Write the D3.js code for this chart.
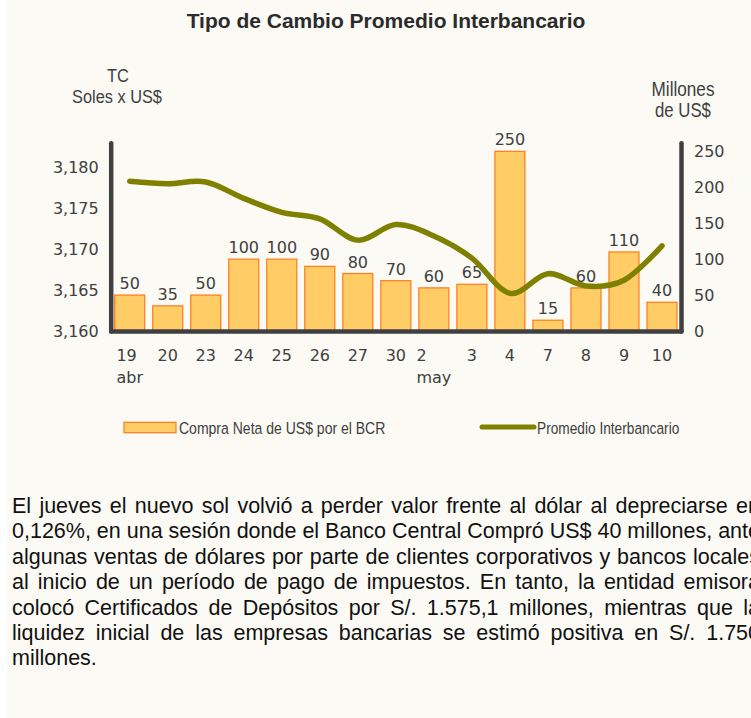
<!DOCTYPE html>
<html lang="es">
<head>
<meta charset="UTF-8">
<title>Tipo de Cambio Promedio Interbancario</title>
<script src="https://d3js.org/d3.v7.min.js"></script>
<style>
  body { margin: 0; background: #fff; }
  svg { display: block; }
  .tick text { font-family: "DejaVu Sans", Verdana, sans-serif; font-size: 16px; fill: #404040; }
  .narrow { font-family: "Liberation Sans", Arial, sans-serif; fill: #404040; }
</style>
</head>
<body>
<svg width="751" height="718"></svg>
<script>
// datos
const fechas = ["19", "20", "23", "24", "25", "26", "27", "30", "2", "3", "4", "7", "8", "9", "10"];
const meses = { "19": "abr", "2": "may" };
const compraNeta = [50, 35, 50, 100, 100, 90, 80, 70, 60, 65, 250, 15, 60, 110, 40];
const promedioTC = [3.1783, 3.1780, 3.1782, 3.1762, 3.1745, 3.1737, 3.1711, 3.1730, 3.1716, 3.1689, 3.1646, 3.1670, 3.1655, 3.1662, 3.1704];
const ticksTC = [3.160, 3.165, 3.170, 3.175, 3.180];
const ticksUS = [0, 50, 100, 150, 200, 250];
const series = ["Compra Neta de US$ por el BCR", "Promedio Interbancario"];
const parrafo = [
  "El jueves el nuevo sol volvió a perder valor frente al dólar al depreciarse en",
  "0,126%, en una sesión donde el Banco Central Compró US$ 40 millones, ante",
  "algunas ventas de dólares por parte de clientes corporativos y bancos locales",
  "al inicio de un período de pago de impuestos. En tanto, la entidad emisora",
  "colocó Certificados de Depósitos por S/. 1.575,1 millones, mientras que la",
  "liquidez inicial de las empresas bancarias se estimó positiva en S/. 1.750",
  "millones."
];

const W = 751, H = 718;
const svg = d3.select("svg");

svg.append("rect")
  .attr("x", 7).attr("y", 0)
  .attr("width", W - 7).attr("height", H)
  .attr("fill", "#fbfaf5");

const plot = { left: 110.7, right: 681, top: 142.7, bottom: 331 };

const x = d3.scaleBand()
  .domain(fechas)
  .range([plot.left, plot.right])
  .paddingInner(0.21)
  .paddingOuter(0.105);

const yL = d3.scaleLinear().domain([3.160, 3.183]).range([plot.bottom, plot.top]);
const yR = d3.scaleLinear().domain([0, 262]).range([plot.bottom, plot.top]);

// texto angosto (Arial Narrow no está disponible: se comprime en horizontal)
function textoAngosto(px, py, txt, size, anchor, sx) {
  return svg.append("text")
    .attr("class", "narrow")
    .attr("transform", `translate(${px},${py}) scale(${sx},1)`)
    .attr("text-anchor", anchor)
    .style("font-size", size + "px")
    .text(txt);
}

// título
svg.append("text")
  .attr("x", 386).attr("y", 27.5)
  .attr("text-anchor", "middle")
  .style("font-family", "'Liberation Sans', Arial, sans-serif")
  .style("font-weight", "bold")
  .style("font-size", "21px")
  .style("fill", "#2b2b2b")
  .text("Tipo de Cambio Promedio Interbancario");

// títulos de ejes
textoAngosto(118, 82, "TC", 19, "middle", 0.86);
textoAngosto(117, 103, "Soles x US$", 19, "middle", 0.86);
textoAngosto(683, 96, "Millones", 19.5, "middle", 0.88);
textoAngosto(683, 117, "de US$", 19.5, "middle", 0.86);

// barras
svg.selectAll(".bar")
  .data(compraNeta)
  .enter().append("rect")
  .attr("class", "bar")
  .attr("x", (d, i) => x(fechas[i]))
  .attr("y", d => yR(d))
  .attr("width", x.bandwidth())
  .attr("height", d => yR(0) - yR(d))
  .attr("fill", "#ffcc66")
  .attr("stroke", "#ff7a1a")
  .attr("stroke-width", 1.2);

// etiquetas de las barras
svg.selectAll(".bar-label")
  .data(compraNeta)
  .enter().append("text")
  .attr("class", "bar-label")
  .attr("x", (d, i) => x(fechas[i]) + x.bandwidth() / 2)
  .attr("y", d => yR(d) - 6)
  .attr("text-anchor", "middle")
  .style("font-family", "'DejaVu Sans', Verdana, sans-serif")
  .style("font-size", "16px")
  .style("fill", "#404040")
  .text(d => d);

// línea suavizada
const linea = d3.line()
  .x((d, i) => x(fechas[i]) + x.bandwidth() / 2)
  .y(d => yL(d))
  .curve(d3.curveCardinal.tension(0));

svg.append("path")
  .datum(promedioTC)
  .attr("d", linea)
  .attr("fill", "none")
  .attr("stroke", "#808000")
  .attr("stroke-width", 5.5)
  .attr("stroke-linecap", "round");

// ejes
function estiloEje(g) {
  g.attr("font-size", null).attr("font-family", null);
  g.select(".domain")
    .attr("stroke", "#404040")
    .attr("stroke-width", 4.5)
    .attr("stroke-linecap", "round");
}

svg.append("g")
  .attr("transform", `translate(${plot.left},0)`)
  .call(d3.axisLeft(yL).tickValues(ticksTC).tickSize(0).tickSizeOuter(0).tickPadding(12)
    .tickFormat(d => d3.format(".3f")(d).replace(".", ",")))
  .call(estiloEje);

svg.append("g")
  .attr("transform", `translate(${plot.right},0)`)
  .call(d3.axisRight(yR).tickValues(ticksUS).tickSize(0).tickSizeOuter(0).tickPadding(13))
  .call(estiloEje);

const ejeX = svg.append("g")
  .attr("transform", `translate(0,${plot.bottom})`)
  .call(d3.axisBottom(x).tickSize(0).tickSizeOuter(0).tickPadding(18.6))
  .call(estiloEje);

ejeX.selectAll(".tick text").each(function(d) {
  const mes = meses[d];
  if (!mes) return;
  const t = d3.select(this);
  const extra = t.clone(true).text(mes).attr("dy", "2.1em");
  const w = extra.node().getComputedTextLength();
  t.attr("text-anchor", "start").attr("x", -w / 2);
});

// leyenda
svg.append("rect")
  .attr("x", 124).attr("y", 422.3)
  .attr("width", 52).attr("height", 10.4)
  .attr("fill", "#ffcc66")
  .attr("stroke", "#ff7a1a")
  .attr("stroke-width", 1.2);
textoAngosto(179, 434, series[0], 16.5, "start", 0.85);

svg.append("line")
  .attr("x1", 482).attr("x2", 534)
  .attr("y1", 427).attr("y2", 427)
  .attr("stroke", "#808000")
  .attr("stroke-width", 5)
  .attr("stroke-linecap", "round");
textoAngosto(537, 434, series[1], 16.5, "start", 0.83);

// párrafo justificado
const anchoTexto = 748;
parrafo.forEach((linea, i) => {
  const t = svg.append("text")
    .attr("x", 12)
    .attr("y", 513 + i * 25.4)
    .style("font-family", "'Liberation Sans', Arial, sans-serif")
    .style("font-size", "21.5px")
    .style("fill", "#111")
    .text(linea);
  if (i < parrafo.length - 1) {
    const natural = t.node().getComputedTextLength();
    const espacios = linea.split(" ").length - 1;
    t.style("word-spacing", ((anchoTexto - natural) / espacios) + "px");
  }
});
</script>
</body>
</html>
